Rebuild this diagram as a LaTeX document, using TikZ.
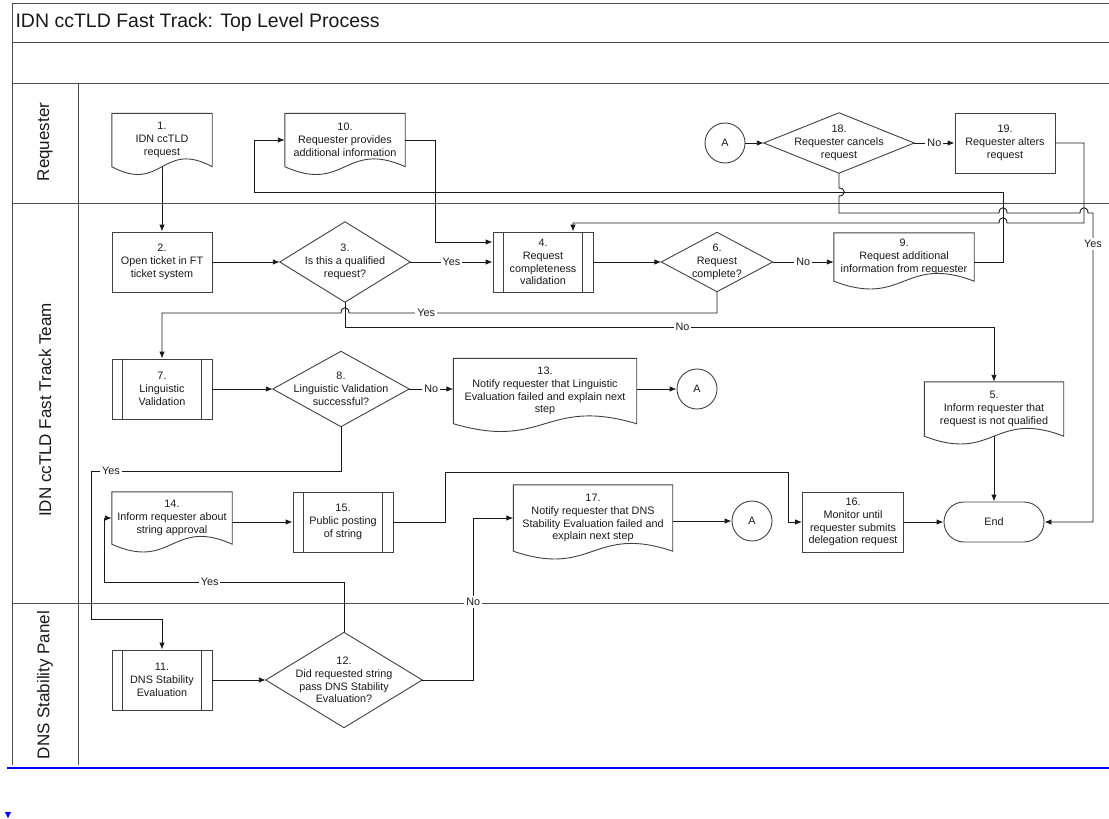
\documentclass[tikz,border=0pt]{standalone}
\usepackage{fontspec}
\setmainfont{Liberation Sans}
\usetikzlibrary{arrows.meta,calc}

\begin{document}
\begin{tikzpicture}[x=1pt,y=-1pt,
  every node/.style={text=black!90, font=\fontsize{10.8}{12.8}\selectfont},
  frame/.style={draw=black!70, line width=0.9pt},
  outline/.style={draw=black!75, line width=0.9pt},
  box/.style={rectangle, outline, align=center, inner sep=1pt, minimum width=100pt, minimum height=60pt},
  docbox/.style={rectangle, align=center, inner sep=1pt},
  decide/.style={rectangle, align=center, inner sep=1pt},
  conn/.style={circle, outline, minimum size=40pt, inner sep=0pt},
  term/.style={rectangle, outline, rounded corners=20pt, minimum width=100pt, minimum height=40pt},
  lanetext/.style={rotate=90, font=\fontsize{17}{20}\selectfont},
  flow/.style={draw=black!90, line width=0.9pt, -{Latex[length=7pt,width=5.5pt]}},
  lbl/.style={fill=white, inner sep=2pt}]
  \useasboundingbox (0,0) rectangle (1109,819);

  % frame and lanes
  \draw[frame] (12,3) -- (1109,3);
  \draw[frame] (12,3) -- (12,765);
  \draw[frame] (12,42) -- (1109,42);
  \draw[frame] (12,83) -- (1109,83);
  \draw[frame] (12,203) -- (1109,203);
  \draw[frame] (12,603) -- (1109,603);
  \draw[frame] (78,83) -- (78,765);
  \draw[blue, line width=2pt] (7,768) -- (1109,768);
  \fill[blue] (5,812) -- (11,812) -- (8,818) -- cycle;

  \node[anchor=west, font=\fontsize{19.5}{23}\selectfont] (title) at (12,22) {IDN ccTLD Fast Track: Top Level Process};
  \node[lanetext] (reqlane) at (45,142) {Requester};
  \node[lanetext] (ftlane) at (45,410) {IDN ccTLD Fast Track Team};
  \node[lanetext] (dnslane) at (45,685) {DNS Stability Panel};

  % requester
  \node[docbox, minimum width=100pt, minimum height=53pt] (n1) at (162,140) {1.\\IDN ccTLD\\request};
  \node[docbox, minimum width=120pt, minimum height=53pt] (n10) at (345,140) {10.\\Requester provides\\additional information};
  \node[conn] (A1) at (725,143) {A};
  \node[decide, minimum width=150pt, minimum height=60pt] (q18) at (839,143) {18.\\Requester cancels\\request};
  \node[box] (n19) at (1005,143) {19.\\Requester alters\\request};

  % fast track team
  \node[box] (n2) at (162,262) {2.\\Open ticket in FT\\ticket system};
  \node[decide, minimum width=130pt, minimum height=80pt] (q3) at (345,262) {3.\\Is this a qualified\\request?};
  \node[box] (n4) at (543,262) {4.\\Request\\completeness\\validation};
  \node[decide, minimum width=111pt, minimum height=59pt] (q6) at (717,262) {6.\\Request\\complete?};
  \node[docbox, minimum width=140pt, minimum height=48pt] (n9) at (904,257) {9.\\Request additional\\information from requester};
  \node[box] (n7) at (162,389) {7.\\Linguistic\\Validation};
  \node[decide, minimum width=136pt, minimum height=75pt] (q8) at (341,389) {8.\\Linguistic Validation\\successful?};
  \node[docbox, minimum width=183pt, minimum height=65pt] (n13) at (545,391) {13.\\Notify requester that Linguistic\\Evaluation failed and explain next\\step};
  \node[conn] (A2) at (697,389) {A};
  \node[docbox, minimum width=139pt, minimum height=54pt] (n5) at (994,409) {5.\\Inform requester that\\request is not qualified};
  \node[docbox, minimum width=120pt, minimum height=52pt] (n14) at (172,518) {14.\\Inform requester about\\string approval};
  \node[box] (n15) at (343,522) {15.\\Public posting\\of string};
  \node[docbox, minimum width=159pt, minimum height=66pt] (n17) at (593,518) {17.\\Notify requester that DNS\\Stability Evaluation failed and\\explain next step};
  \node[conn] (A3) at (752,521) {A};
  \node[box, minimum width=101pt] (n16) at (853,522) {16.\\Monitor until\\requester submits\\delegation request};
  \node[term] (End) at (994,522) {End};

  % dns stability panel
  \node[box] (n11) at (162,680) {11.\\DNS Stability\\Evaluation};
  \node[decide, minimum width=156pt, minimum height=95pt] (q12) at (344,680) {12.\\Did requested string\\pass DNS Stability\\Evaluation?};

  \foreach \d in {n1,n10,n9,n13,n5,n14,n17}
    \draw[outline] (\d.south west) -- (\d.north west) -- (\d.north east) -- (\d.south east)
      .. controls ($(\d.south)+(0,-27)$) and ($(\d.south)+(0,27)$) .. (\d.south west) -- cycle;
  \foreach \q in {q3,q6,q8,q12,q18}
    \draw[outline] (\q.north) -- (\q.east) -- (\q.south) -- (\q.west) -- cycle;
  \foreach \p in {n4,n7,n15,n11}
    \draw[outline] ([xshift=11pt]\p.north west) -- ([xshift=11pt]\p.south west)
      ([xshift=-11pt]\p.north east) -- ([xshift=-11pt]\p.south east);

  % connectors
  \draw[flow] (n1) -- (n2);
  \draw[flow] (n2) -- (q3);
  \draw[flow] (q3) -- node[lbl]{Yes} (n4);
  \draw[flow] (n10) -| (435,242) -- ([yshift=20pt]n4.west);
  \draw[flow] (n4) -- (q6);
  \draw[flow] (q6) -- node[lbl]{No} (q6 -| n9.west);
  \draw[flow] (n9.east |- q6) -| (1003,192) -- (254,192) |- (n10);
  \draw[flow] (q6) -- (717,313) -- node[lbl,pos=.79]{Yes} (349,313)
    .. controls (349,306) and (341,306) .. (341,313) -- (162,313) -- (n7);
  \draw[flow] (q3) -- (345,327) -- node[lbl,pos=.52]{No} (994,327) -- (n5);
  \draw[flow] (n7) -- (q8);
  \draw[flow] (q8) -- node[lbl]{No} (q8 -| n13.west);
  \draw[flow] (n13.east |- A2) -- (A2);
  \draw[flow] (q8) -- (341,471) -- node[lbl,pos=.92]{Yes} (91,471) -- (91,619) -- (162,619) -- (n11);
  \draw[flow] (n11) -- (q12);
  \draw[flow] (q12) -- (344,582) -- node[lbl,pos=.56]{Yes} (104,582) |- (n14);
  \draw[flow] (q12) -| node[lbl,pos=.74]{No} ([xshift=-40pt]n17.west) -- (n17.west);
  \draw[flow] (n14.east |- n15) -- (n15);
  \draw[flow] (n15) -| (445,472) -| (788,522) -- (n16);
  \draw[flow] (n17.east |- A3) -- (A3);
  \draw[flow] (n16) -- (End);
  \draw[flow] (n5) -- (End);
  \draw[flow] (A1) -- (q18);
  \draw[flow] (q18) -- node[lbl]{No} (n19);
  \draw[flow] (n19) -| (1084,223) -- (1007,223) .. controls (1007,216) and (999,216) .. (999,223)
    -- (573,223) -- ([xshift=30pt]n4.north);
  \draw[flow] (q18) -- (839,188) .. controls (846,188) and (846,196) .. (839,196) -- (839,213)
    -- (999,213) .. controls (999,206) and (1007,206) .. (1007,213)
    -- (1080,213) .. controls (1080,206) and (1088,206) .. (1088,213)
    -- (1093,213) -- node[lbl,pos=.1]{Yes} (1093,522) -- (End);
\end{tikzpicture}
\end{document}
